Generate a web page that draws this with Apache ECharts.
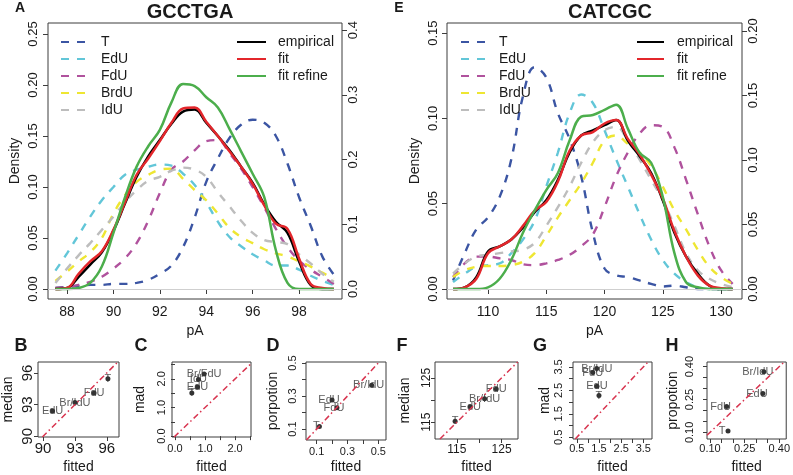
<!DOCTYPE html>
<html>
<head>
<meta charset="utf-8">
<script src="https://cdn.jsdelivr.net/npm/echarts@6/dist/echarts.min.js"></script>
<style>
  html, body { margin: 0; padding: 0; background: #fff; }
  #chart { width: 793px; height: 475px; }
</style>
</head>
<body>
<div id="chart"></div>
<script>
// ---- panel A : GCCTGA densities (pA grid) ----
var aX = [87.5, 88, 88.5, 89, 89.5, 90, 90.5, 91, 91.5, 92, 92.5, 93, 93.5, 94, 94.5, 95, 95.5, 96, 96.5, 97, 97.5, 98, 98.5, 99, 99.5];
var aT    = [0.001, 0.002, 0.003, 0.004, 0.004, 0.005, 0.005, 0.006, 0.009, 0.015, 0.023, 0.041, 0.07, 0.105, 0.128, 0.148, 0.161, 0.166, 0.163, 0.15, 0.123, 0.09, 0.062, 0.032, 0.014];
var aEdU  = [0.018, 0.035, 0.053, 0.071, 0.087, 0.1, 0.112, 0.117, 0.12, 0.122, 0.121, 0.113, 0.102, 0.085, 0.066, 0.051, 0.042, 0.034, 0.028, 0.023, 0.023, 0.019, 0.013, 0.008, 0.004];
var aFdU  = [0.001, 0.002, 0.004, 0.007, 0.012, 0.02, 0.03, 0.045, 0.067, 0.094, 0.117, 0.125, 0.136, 0.145, 0.146, 0.133, 0.118, 0.1, 0.08, 0.059, 0.041, 0.028, 0.019, 0.012, 0.005];
var aBrdU = [0.008, 0.017, 0.027, 0.036, 0.05, 0.074, 0.092, 0.105, 0.112, 0.117, 0.118, 0.108, 0.097, 0.087, 0.074, 0.06, 0.051, 0.045, 0.039, 0.035, 0.032, 0.027, 0.022, 0.016, 0.01];
var aIdU  = [0.006, 0.02, 0.033, 0.045, 0.058, 0.071, 0.085, 0.097, 0.106, 0.11, 0.116, 0.119, 0.117, 0.11, 0.095, 0.081, 0.067, 0.055, 0.048, 0.046, 0.044, 0.034, 0.025, 0.015, 0.007];
var aEmp  = [0, 0.001, 0.012, 0.024, 0.036, 0.057, 0.084, 0.11, 0.13, 0.146, 0.162, 0.174, 0.176, 0.163, 0.15, 0.136, 0.12, 0.104, 0.083, 0.066, 0.055, 0.027, 0.004, 0, 0];
var aFit  = [0, 0.001, 0.015, 0.027, 0.037, 0.058, 0.085, 0.112, 0.128, 0.145, 0.163, 0.177, 0.178, 0.164, 0.15, 0.135, 0.12, 0.103, 0.082, 0.064, 0.059, 0.03, 0.005, 0.001, 0];
var aRef  = [0, 0, 0.001, 0.006, 0.022, 0.055, 0.09, 0.12, 0.14, 0.156, 0.183, 0.201, 0.199, 0.188, 0.178, 0.157, 0.135, 0.113, 0.09, 0.038, 0.006, 0, 0, 0, 0];

// ---- panel E : CATCGC densities ----
var eX = [107, 108, 109, 110, 111, 112, 113, 114, 115, 116, 117, 118, 119, 120, 121, 122, 123, 124, 125, 126, 127, 128, 129, 130, 131];
var eT    = [0.005, 0.021, 0.035, 0.042, 0.054, 0.076, 0.113, 0.13, 0.124, 0.103, 0.088, 0.066, 0.033, 0.012, 0.008, 0.007, 0.005, 0.003, 0.0015, 0.002, 0.001, 0, 0, 0, 0];
var eEdU  = [0.004, 0.009, 0.013, 0.014, 0.015, 0.021, 0.029, 0.04, 0.06, 0.08, 0.103, 0.114, 0.109, 0.093, 0.076, 0.06, 0.044, 0.029, 0.017, 0.009, 0.004, 0.001, 0, 0, 0];
var eFdU  = [0.007, 0.015, 0.019, 0.019, 0.018, 0.017, 0.0145, 0.014, 0.015, 0.017, 0.02, 0.025, 0.032, 0.048, 0.066, 0.08, 0.091, 0.096, 0.095, 0.083, 0.064, 0.044, 0.025, 0.011, 0.003];
var eBrdU = [0.007, 0.011, 0.013, 0.0135, 0.0135, 0.014, 0.016, 0.021, 0.031, 0.042, 0.052, 0.062, 0.074, 0.087, 0.09, 0.085, 0.08, 0.072, 0.06, 0.046, 0.035, 0.023, 0.013, 0.007, 0.003];
var eIdU  = [0.009, 0.015, 0.019, 0.02, 0.021, 0.022, 0.023, 0.027, 0.037, 0.048, 0.06, 0.074, 0.086, 0.093, 0.095, 0.087, 0.076, 0.064, 0.052, 0.037, 0.021, 0.011, 0.006, 0.003, 0.001];
var eEmp  = [0, 0.001, 0.007, 0.022, 0.025, 0.029, 0.036, 0.045, 0.052, 0.064, 0.08, 0.09, 0.093, 0.096, 0.099, 0.087, 0.078, 0.068, 0.052, 0.033, 0.019, 0.009, 0.002, 0, 0];
var eFit  = [0, 0.001, 0.006, 0.021, 0.025, 0.029, 0.037, 0.046, 0.051, 0.063, 0.081, 0.09, 0.092, 0.097, 0.099, 0.088, 0.079, 0.067, 0.053, 0.034, 0.019, 0.008, 0.002, 0.0005, 0];
var eRef  = [0, 0, 0, 0.001, 0.006, 0.017, 0.033, 0.046, 0.058, 0.068, 0.087, 0.101, 0.102, 0.105, 0.108, 0.094, 0.08, 0.074, 0.054, 0.021, 0.004, 0.001, 0, 0, 0];

// ---- small panels: label, fitted, observed ----
var bLabels = ['EdU', 'Br/IdU', 'FdU', 'T'];
var bFitted = [90.9, 93.0, 94.8, 96.1];
var bMedian = [92.4, 93.2, 94.1, 95.45];

var cLabels = ['Br/FdU', 'IdU', 'EdU', 'T'];
var cFitted = [0.97, 0.78, 0.75, 0.56];
var cMad    = [2.17, 1.98, 1.72, 1.51];

var dLabels = ['Br/IdU', 'EdU', 'FdU', 'T'];
var dFitted = [0.457, 0.2, 0.232, 0.118];
var dProp   = [0.365, 0.276, 0.229, 0.116];

var fLabels = ['T', 'EdU', 'Br/IdU', 'FdU'];
var fFitted = [114.6, 118.0, 121.2, 123.8];
var fMedian = [115.2, 118.5, 120.3, 122.5];

var gLabels = ['Br/IdU', 'FdU', 'EdU', 'T'];
var gFitted = [1.4, 1.22, 1.41, 1.5];
var gMad    = [3.43, 3.26, 2.68, 2.28];

var hLabels = ['Br/IdU', 'EdU', 'FdU', 'T'];
var hFitted = [0.333, 0.329, 0.172, 0.178];
var hProp   = [0.377, 0.277, 0.218, 0.106];

var compNames = ['T', 'EdU', 'FdU', 'BrdU', 'IdU'];
var fitNames = ['empirical', 'fit', 'fit refine'];

// ---- styles ----
var FONT = '"Liberation Sans", Arial, sans-serif';
var INK = '#1a1a1a';
var BOX = '#3c3c3c';
var compColors = ['#3b55a3', '#62c6d8', '#b0529d', '#eee632', '#bdbdbd'];
var fitColors = ['#000000', '#e3262b', '#4cae4c'];

var chart = echarts.init(document.getElementById('chart'));

function axis(o) {
  return {
    type: 'value', gridIndex: o.g, position: o.pos, min: o.min, max: o.max,
    axisLine: { show: false }, splitLine: { show: false },
    axisTick: { show: true, length: o.tl || 5, lineStyle: { color: BOX }, customValues: o.ticks },
    axisLabel: {
      customValues: o.labels || o.ticks,
      formatter: function (v) { return (+v).toFixed(o.dec); },
      rotate: o.rot || 0, margin: o.m, fontSize: o.fs, color: INK, fontFamily: FONT
    },
    name: o.name || '', nameLocation: 'middle', nameGap: o.ng || 0, nameRotate: o.rot ? 90 : 0,
    nameTextStyle: { fontSize: 14, color: INK, fontFamily: FONT }
  };
}

function curve(name, color, dashed, xs, ys, xi, yi) {
  return {
    type: 'line', name: name, xAxisIndex: xi, yAxisIndex: yi,
    data: xs.map(function (x, i) { return [x, ys[i]]; }),
    smooth: 0.4, symbol: 'none', silent: true,
    lineStyle: { color: color, width: dashed ? 2.4 : 2.5, type: dashed ? [8, 8] : 'solid' },
    itemStyle: { color: color }
  };
}

var grids = [
  { left: 48, top: 23, width: 294, height: 276 },
  { left: 447, top: 23, width: 295, height: 276 },
  { left: 38, top: 362, width: 81, height: 76 },
  { left: 172, top: 362, width: 79, height: 76 },
  { left: 306, top: 362, width: 80, height: 79 },
  { left: 435, top: 362, width: 83, height: 78 },
  { left: 573, top: 362, width: 79, height: 78 },
  { left: 707, top: 362, width: 80, height: 78 }
].map(function (g) {
  return Object.assign({ show: true, borderColor: BOX, borderWidth: 1, backgroundColor: 'transparent' }, g);
});

var xAxes = [
  axis({ g: 0, pos: 'bottom', min: 87.18, max: 99.85, ticks: [88, 90, 92, 94, 96, 98], dec: 0, m: 6, fs: 14, name: 'pA', ng: 22 }),
  axis({ g: 1, pos: 'bottom', min: 106.48, max: 131.8, ticks: [110, 115, 120, 125, 130], dec: 0, m: 6, fs: 14, name: 'pA', ng: 22 })
];
var yAxes = [
  axis({ g: 0, pos: 'left', min: -0.0098, max: 0.2608, ticks: [0, 0.05, 0.1, 0.15, 0.2, 0.25], dec: 2, m: 8, fs: 13, rot: 90, name: 'Density', ng: 26 }),
  axis({ g: 0, pos: 'right', min: -0.0155, max: 0.411, ticks: [0, 0.1, 0.2, 0.3, 0.4], dec: 1, m: 5, fs: 13, rot: 90 }),
  axis({ g: 1, pos: 'left', min: -0.00586, max: 0.1559, ticks: [0, 0.05, 0.1, 0.15], dec: 2, m: 7, fs: 13, rot: 90, name: 'Density', ng: 25 }),
  axis({ g: 1, pos: 'right', min: -0.00775, max: 0.2062, ticks: [0, 0.05, 0.1, 0.15, 0.2], dec: 2, m: 5, fs: 13, rot: 90 })
];

var series = [];
function addPanel(xs, comps, fits, xi, yi) {
  comps.forEach(function (ys, i) { series.push(curve(compNames[i], compColors[i], true, xs, ys, xi, yi)); });
  fits.forEach(function (ys, i) { series.push(curve(fitNames[i], fitColors[i], false, xs, ys, xi, yi)); });
  series[series.length - comps.length - fits.length].markLine = {
    silent: true, symbol: 'none', label: { show: false }, animation: false,
    lineStyle: { color: '#cfcfcf', type: 'solid', width: 1 }, data: [{ yAxis: 0 }]
  };
}
addPanel(aX, [aT, aEdU, aFdU, aBrdU, aIdU], [aEmp, aFit, aRef], 0, 0);
addPanel(eX, [eT, eEdU, eFdU, eBrdU, eIdU], [eEmp, eFit, eRef], 1, 2);

// small scatter panels
var small = [
  { lab: bLabels, xs: bFitted, ys: bMedian, yName: 'median', yng: 23, xng: 23, fs: 15, dx: 0,
    x: { min: 89.53, max: 97.14, ticks: [90, 93, 96], dec: 0, m: 4 },
    y: { min: 89.94, max: 97.03, ticks: [90, 93, 96], dec: 0, m: 2.5 } },
  { lab: cLabels, xs: cFitted, ys: cMad, yName: 'mad', yng: 25, xng: 23, fs: 11, dx: 0,
    x: { min: -0.1, max: 2.53, ticks: [0, 0.5, 1, 1.5, 2, 2.5], labels: [0, 1, 2], dec: 1, m: 6 },
    y: { min: -0.03, max: 2.59, ticks: [0, 0.5, 1, 1.5, 2, 2.5], labels: [0, 1, 2], dec: 1, m: 4.5 } },
  { lab: dLabels, xs: dFitted, ys: dProp, yName: 'porpotion', yng: 26, xng: 20, fs: 11, dx: -3,
    x: { min: 0.031, max: 0.55, ticks: [0.1, 0.2, 0.3, 0.4, 0.5], labels: [0.1, 0.3, 0.5], dec: 1, m: 6 },
    y: { min: 0.034, max: 0.506, ticks: [0.1, 0.2, 0.3, 0.4, 0.5], labels: [0.1, 0.3, 0.5], dec: 1, m: 8 } },
  { lab: fLabels, xs: fFitted, ys: fMedian, yName: 'median', yng: 23, xng: 21, fs: 12, dx: 0,
    x: { min: 110.1, max: 128.67, ticks: [115, 120, 125], labels: [115, 125], dec: 0, m: 4.5 },
    y: { min: 111.2, max: 128.6, ticks: [115, 120, 125], labels: [115, 125], dec: 0, m: 2 } },
  { lab: gLabels, xs: gFitted, ys: gMad, yName: 'mad', yng: 19, xng: 21, fs: 11, dx: 0,
    x: { min: 0.33, max: 3.89, ticks: [0.5, 1, 1.5, 2, 2.5, 3, 3.5], labels: [0.5, 1.5, 2.5, 3.5], dec: 1, m: 4.5 },
    y: { min: 0.43, max: 3.71, ticks: [0.5, 1, 1.5, 2, 2.5, 3, 3.5], labels: [0.5, 1.5, 2.5, 3.5], dec: 1, m: 9 } },
  { lab: hLabels, xs: hFitted, ys: hProp, yName: 'propotion', yng: 27, xng: 21, fs: 11, dx: -6,
    x: { min: 0.087, max: 0.43, ticks: [0.1, 0.15, 0.2, 0.25, 0.3, 0.35, 0.4], labels: [0.1, 0.25, 0.4], dec: 2, m: 4.5 },
    y: { min: 0.07, max: 0.421, ticks: [0.1, 0.15, 0.2, 0.25, 0.3, 0.35, 0.4], labels: [0.1, 0.25, 0.4], dec: 2, m: 12 } }
];

small.forEach(function (p, k) {
  var gi = k + 2;
  xAxes.push(axis(Object.assign({ g: gi, pos: 'bottom', fs: p.fs, tl: 4, name: 'fitted', ng: p.xng }, p.x)));
  yAxes.push(axis(Object.assign({ g: gi, pos: 'left', fs: p.fs, tl: 4, rot: 90, name: p.yName, ng: p.yng }, p.y)));
  var xi = xAxes.length - 1, yi = yAxes.length - 1;
  var lo = Math.max(p.x.min, p.y.min), hi = Math.min(p.x.max, p.y.max);
  series.push({
    type: 'line', xAxisIndex: xi, yAxisIndex: yi, data: [[lo, lo], [hi, hi]],
    symbol: 'none', silent: true,
    lineStyle: { color: '#d8344f', width: 1.5, type: [6, 3, 1.5, 3] }
  });
  series.push({
    type: 'scatter', xAxisIndex: xi, yAxisIndex: yi, symbolSize: 5, silent: true,
    data: p.xs.map(function (x, i) { return [x, p.ys[i]]; }),
    itemStyle: { color: '#000' },
    label: {
      show: true, position: 'inside', offset: [p.dx, 0], fontSize: 11, color: '#333', fontFamily: FONT,
      formatter: function (q) { return p.lab[q.dataIndex]; }
    }
  });
});

function txt(s, x, y, font) {
  return { type: 'text', x: x, y: y, silent: true,
    style: { text: s, font: font, fill: INK, align: 'center', verticalAlign: 'middle', textAlign: 'center', textVerticalAlign: 'middle' } };
}
var letters = [['B', 21], ['C', 141], ['D', 273], ['F', 402], ['G', 540], ['H', 672]];
var graphic = [
  txt('GCCTGA', 190, 12, 'bold 20px ' + FONT),
  txt('CATCGC', 610, 12, 'bold 20px ' + FONT),
  txt('A', 20, 8, 'bold 14px ' + FONT),
  txt('E', 399, 8, 'bold 14px ' + FONT)
].concat(letters.map(function (l) { return txt(l[0], l[1], 346, 'bold 18px ' + FONT); }));

// legend keys: line only, no marker
function leg(data, left, top, w, gap) {
  return {
    data: data, left: left, top: top, orient: 'vertical', itemWidth: w, itemHeight: 14, itemGap: 3,
    padding: 0, selectedMode: false,
    itemStyle: { color: 'rgba(0,0,0,0)', borderColor: 'rgba(0,0,0,0)', borderWidth: 0, opacity: 0 },
    textStyle: { fontSize: 14, color: INK, fontFamily: FONT, padding: [0, 0, 0, gap] }
  };
}

chart.setOption({
  animation: false,
  backgroundColor: '#fff',
  grid: grids,
  xAxis: xAxes,
  yAxis: yAxes,
  legend: [
    leg(compNames, 60, 35, 25, 10),
    leg(fitNames, 236, 35, 29, 7),
    leg(compNames, 460, 35, 25, 8),
    leg(fitNames, 636, 35, 27, 8)
  ],
  graphic: graphic,
  series: series
});
</script>
</body>
</html>
